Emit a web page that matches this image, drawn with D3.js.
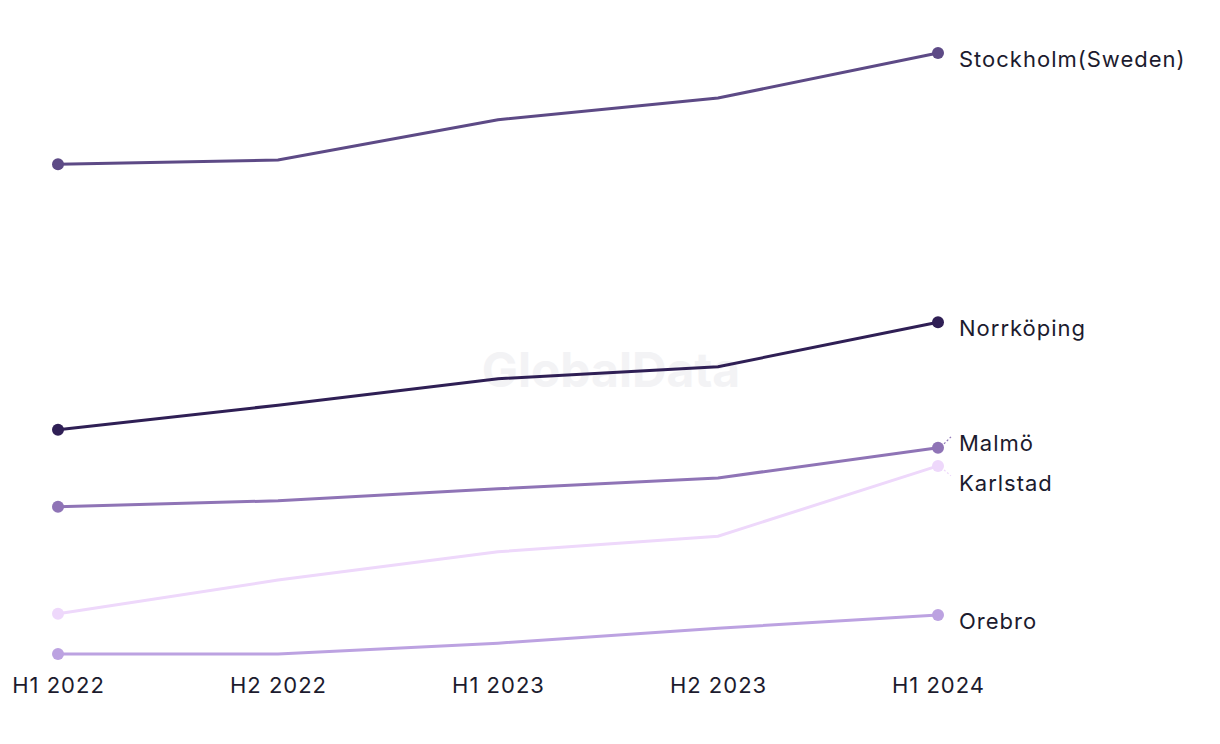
<!DOCTYPE html>
<html>
<head>
<meta charset="utf-8">
<script src="https://cdn.jsdelivr.net/npm/d3@7"></script>
<style>
  html, body { margin: 0; padding: 0; background: #fff; }
  svg text { font-family: Inter, "Noto Sans", sans-serif; }
</style>
</head>
<body>
<svg id="chart" width="1220" height="744"></svg>
<script>
const periods = ["H1 2022", "H2 2022", "H1 2023", "H2 2023", "H1 2024"];
const seriesNames = ["Stockholm(Sweden)", "Norrköping", "Malmö", "Karlstad", "Orebro"];
const stockholm = [81.5, 82.2, 88.9, 92.5, 100.0];
const norrkoping = [37.3, 41.4, 45.8, 47.8, 55.2];
const malmo = [24.5, 25.5, 27.5, 29.3, 34.3];
const karlstad = [6.7, 12.3, 17.0, 19.6, 31.3];
const orebro = [0.0, 0.0, 1.8, 4.3, 6.5];
const colors = ["#5d4a86", "#2f1f55", "#8f74b6", "#eed8fb", "#bca2e1"];
const labelOffsets = [6, 6, -5, 17, 6];

const series = seriesNames.map((n, i) => ({
  name: n,
  values: [stockholm, norrkoping, malmo, karlstad, orebro][i],
  color: colors[i],
  dy: labelOffsets[i]
}));

const svg = d3.select("#chart");
const x = d3.scalePoint().domain(periods).range([58, 938]);
const y = d3.scaleLinear().domain([0, 100]).range([654, 53]);

// watermark
svg.append("text")
  .attr("x", 611).attr("y", 387)
  .attr("text-anchor", "middle")
  .attr("font-size", 48).attr("font-weight", 700)
  .attr("fill", "#f3f3f5")
  .text("GlobalData");

const line = d3.line().x((d, i) => x(periods[i])).y(d => y(d));

const order = [3, 4, 2, 1, 0];
order.forEach(k => {
  const s = series[k];
  const g = svg.append("g");
  g.append("path")
    .attr("d", line(s.values))
    .attr("fill", "none")
    .attr("stroke", s.color)
    .attr("stroke-width", 3);
  const n = s.values.length;
  g.selectAll("circle").data([0, n - 1]).join("circle")
    .attr("cx", i => x(periods[i]))
    .attr("cy", i => y(s.values[i]))
    .attr("r", 6)
    .attr("fill", s.color);
});

// labels
series.forEach((s, k) => {
  const last = s.values[s.values.length - 1];
  const yy = y(last) + s.dy;
  if (k === 2 || k === 3) {
    const up = k === 2;
    svg.append("line")
      .attr("x1", 944).attr("y1", y(last) + (up ? -4 : 4))
      .attr("x2", 951).attr("y2", y(last) + (up ? -11 : 10))
      .attr("stroke", s.color)
      .attr("stroke-width", 1.2)
      .attr("stroke-dasharray", "2,2");
  }
  svg.append("text")
    .attr("x", 959).attr("y", yy)
    .attr("dy", "0.35em")
    .attr("font-size", 22)
    .attr("letter-spacing", 1)
    .attr("fill", "#1c1b2e")
    .text(s.name);
});

// x axis labels
const xAxis = d3.axisBottom(x).tickSize(0).tickPadding(0);
const ax = svg.append("g").attr("transform", "translate(0,677)").call(xAxis);
ax.select(".domain").remove();
ax.selectAll("text")
  .attr("font-size", 22)
  .attr("letter-spacing", 1)
  .attr("fill", "#1c1b2e")
  .attr("font-family", "Inter, 'Noto Sans', sans-serif")
  .attr("dy", "0.71em");
</script>
</body>
</html>
